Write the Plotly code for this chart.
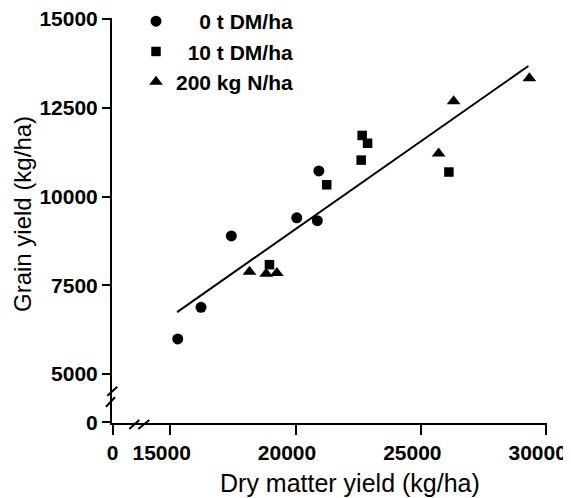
import plotly.graph_objects as go

# ---- data ----
dm_0t = [15290, 16220, 17430, 20040, 20860, 20920]
gy_0t = [5990, 6880, 8890, 9400, 9320, 10720]

dm_10t = [18950, 21235, 22650, 22865, 22610, 26110]
gy_10t = [8080, 10330, 11720, 11500, 11025, 10690]

dm_200n = [18155, 18820, 19245, 25700, 26300, 29320]
gy_200n = [7880, 7825, 7845, 11210, 12685, 13330]

fit_x = [15266, 29280]
fit_y = [6745, 13675]

names = ["\u00a0\u00a0\u00a0\u00a00 t DM/ha", "\u00a0\u00a010 t DM/ha", "200 kg N/ha"]
x_ticks = [15000, 20000, 25000, 30000]
y_ticks = [5000, 7500, 10000, 12500, 15000]

FONT = "Liberation Sans, Arial, sans-serif"

# page body has an 8px margin: figure pixel = screen pixel - 8
OFF = 8
W, H = 571 - OFF, 498 - OFF
# plot area in screen pixels (origin of the broken axes at L, B)
L, R, T, B = 112, 547, 18, 423
def fx(px):
    return (px - L) / (R - L)
def fy(py):
    return (B - py) / (B - T)

XPX = 377 / 15000          # px per kg (x)
YPX = 0.0356               # px per kg (y)
def xval(px):
    return 15000 + (px - 170) / XPX
def yval(py):
    return 15000 - (py - 18.5) / YPX

# broken axes: the origin "0" sits at the start of each axis
NB = "\u00a0"
x_origin, y_origin = xval(L), yval(B)
x_tickvals = [x_origin] + x_ticks
x_ticktext = ["0"] + [str(v) + NB * 3 for v in x_ticks]
y_tickvals = [y_origin] + y_ticks
y_ticktext = ["0"] + [str(v) for v in y_ticks]

fig = go.Figure()

fig.add_trace(go.Scatter(x=fit_x, y=fit_y, mode="lines",
                         line=dict(color="black", width=2), showlegend=False,
                         hoverinfo="skip"))
fig.add_trace(go.Scatter(x=dm_0t, y=gy_0t, mode="markers", name=names[0],
                         marker=dict(symbol="circle", size=11, color="black")))
fig.add_trace(go.Scatter(x=dm_10t, y=gy_10t, mode="markers", name=names[1],
                         marker=dict(symbol="square", size=9.5, color="black")))
fig.add_trace(go.Scatter(x=dm_200n, y=gy_200n, mode="markers", name=names[2],
                         marker=dict(symbol="triangle-up", size=12, color="black")))

tickfont = dict(family=FONT, size=21, color="black", weight="bold")
fig.update_layout(
    xaxis=dict(domain=[0, 1], range=[xval(L - 0.6), xval(R + 0.6)],
               showgrid=False, zeroline=False, showline=True,
               linecolor="black", linewidth=2,
               ticks="outside", ticklen=10, tickwidth=2, tickcolor="black",
               tickvals=x_tickvals, ticktext=x_ticktext, tickfont=tickfont,
               ticklabeloverflow="allow"),
    yaxis=dict(domain=[0, 1], range=[yval(B + 0.6), yval(T - 0.5)],
               showgrid=False, zeroline=False, showline=True,
               linecolor="black", linewidth=2,
               ticks="outside", ticklen=8, tickwidth=2, tickcolor="black",
               tickvals=y_tickvals, ticktext=y_ticktext, tickfont=tickfont,
               ticklabeloverflow="allow"),
)

# axis-break marks (screen pixels)
brk = [
    ((107.3, 395.7), (117.3, 386.7)),
    ((106.0, 406.7), (115.0, 397.3)),
    ((129.3, 429.0), (139.3, 420.0)),
    ((138.3, 429.0), (149.3, 420.0)),
]
for (x0, y0), (x1, y1) in brk:
    fig.add_shape(type="line", xref="paper", yref="paper",
                  x0=fx(x0), y0=fy(y0), x1=fx(x1), y1=fy(y1),
                  line=dict(color="black", width=2))

# axis titles
fig.add_annotation(text="Dry matter yield (kg/ha)", xref="paper", yref="paper",
                   x=fx(350), y=fy(483), xanchor="center", yanchor="middle",
                   showarrow=False, font=dict(family=FONT, size=25, color="black"))
fig.add_annotation(text="Grain yield (kg/ha)", xref="paper", yref="paper",
                   x=fx(22), y=fy(214), xanchor="center", yanchor="middle",
                   textangle=-90, showarrow=False,
                   font=dict(family=FONT, size=24, color="black"))

fig.update_layout(
    width=W, height=H,
    margin=dict(l=L - OFF, r=W - (R - OFF), t=T - OFF, b=H - (B - OFF),
                autoexpand=False),
    paper_bgcolor="white", plot_bgcolor="white",
    showlegend=True,
    legend=dict(x=fx(136), y=fy(1), xanchor="left", yanchor="top",
                bgcolor="rgba(0,0,0,0)", borderwidth=0,
                font=dict(family=FONT, size=21, color="black", weight="bold"),
                itemwidth=30, tracegroupgap=0),
    font=dict(family=FONT, color="black"),
)

fig.write_html("out.html")
